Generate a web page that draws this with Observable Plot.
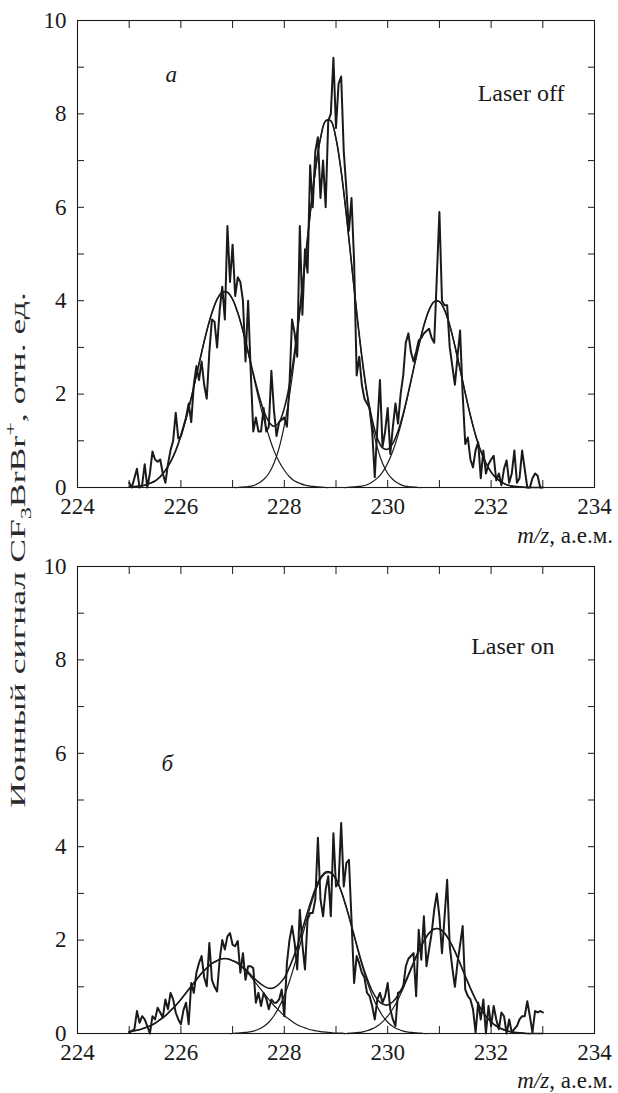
<!DOCTYPE html>
<html><head><meta charset="utf-8">
<script src="https://cdn.jsdelivr.net/npm/d3@7"></script>
<script src="https://cdn.jsdelivr.net/npm/@observablehq/plot@0.6"></script>
<style>
body{margin:0;background:#fff;}
#wrap{position:relative;width:618px;height:1093px;font-family:"Liberation Serif","DejaVu Serif",serif;}
#wrap > svg{display:block}
#wrap svg text, #wrap svg tspan{font-family:"Liberation Serif","DejaVu Serif",serif !important;}
#overlay{position:absolute;left:0;top:0;pointer-events:none}
</style></head><body><div id="wrap"></div>
<script>
// ---- data ----
const dataStart = 225, dataStep = 0.05;   // noisy traces: 225.00 … 233.00
const fitStart = 225, fitStep = 0.1;      // fitted curves: 225.0 … 233.0

const offData = [
 0.1,0,0.2,0.4,0,0.05,0.5,0,0.3,0.77,0.6,0.55,0.6,0.3,0.1,0.5,0.8,1.0,1.6,1.05,
 1.1,1.3,1.5,1.8,1.4,2.2,2.6,2.3,2.7,2.2,1.9,2.9,3.6,3.55,3.0,3.8,4.3,3.6,5.6,4.4,
 5.2,4.1,4.5,4.4,4.0,2.7,4.0,2.5,1.2,1.5,1.2,1.2,1.7,1.2,1.3,2.5,1.65,1.1,1.4,1.45,
 1.5,1.3,2.2,3.6,3.3,2.8,5.6,3.7,5.1,4.6,6.9,6.0,7.2,7.5,6.2,7.0,6.0,7.85,8.0,9.2,
 7.7,8.65,8.8,7.2,6.4,5.5,6.2,4.85,2.4,2.8,2.2,1.9,1.8,1.7,1.2,0.22,1.3,2.3,0.87,1.2,
 1.7,0.72,1.3,1.8,1.37,2.0,2.4,3.1,3.3,2.9,2.7,2.9,3.15,3.2,3.3,3.35,3.4,3.2,3.1,4.5,
 5.9,4.0,3.9,3.9,3.0,2.6,2.2,2.8,3.36,2.0,0.93,1.07,0.6,0.43,0.8,0.97,0.2,0.79,0.3,0.5,
 0.6,0.68,0.15,0.3,0.05,0.4,0.58,0.1,0.3,0.79,0.1,0.2,0.79,0.4,0,0,0.2,0.3,0.25,0,
 0
];
const onData = [
 0.02,0.05,0.09,0.48,0.23,0.37,0.30,0.16,0,0.37,0.30,0.55,0.45,0.34,0.73,0.52,0.87,0.73,0.45,0.30,
 0.2,0.5,0.66,0.2,1.08,0.87,1.3,1.51,1.66,1.2,1.01,1.94,1.15,1.0,0.9,1.58,2.0,1.8,2.08,2.15,
 1.9,1.87,1.98,1.3,1.72,1.15,1.44,1.44,1.4,0.66,0.87,0.59,0.87,0.75,0.52,0.73,0.66,0.66,0.73,0.94,
 0.37,1.5,2.0,2.3,1.94,1.37,2.65,1.9,1.37,2.44,2.58,2.58,2.87,4.19,2.87,2.51,3.08,3.37,2.51,4.29,
 3.15,3.22,4.51,3.15,3.65,3.72,2.44,1.08,1.66,1.5,1.3,1.2,0.87,0.8,0.59,0.3,0.73,0.87,0.66,0.8,
 1.08,0.52,0.3,0.16,0.87,0.9,1.0,1.44,1.6,1.66,1.72,0.8,2.22,1.58,2.51,1.44,1.8,2.15,2.65,3.0,
 2.51,1.72,2.5,3.29,1.87,1.4,1.0,1.51,1.9,2.3,0.94,0.8,0.73,0.52,0.02,0.66,0.3,0.73,0,0.59,
 0.16,0.59,0.3,0.09,0.45,0.37,0,0.3,0.02,0.1,0.16,0.3,0.37,0.37,0.69,0.37,0.02,0.48,0.45,0.48,
 0.45
];

// fitted Gaussian components and their sum, "Laser off"
const offFit1 = [0.01,0.02,0.03,0.05,0.09,0.14,0.23,0.37,0.55,0.79,1.11,1.48,1.92,2.40,2.89,3.35,3.74,4.03,4.18,4.18,
 4.03,3.74,3.35,2.89,2.40,1.92,1.48,1.11,0.79,0.55,0.37,0.23,0.14,0.09,0.05,0.03,0.02,0.01,0,0,
 0,0,0,0,0,0,0,0,0,0,0,0,0,0,0,0,0,0,0,0,0,0,0,0,0,0,0,0,0,0,0,0,0,0,0,0,0,0,0,0,0];
const offFit2 = [0,0,0,0,0,0,0,0,0,0,0,0,0,0,0,0,0,0,0,0,0,0,
 0.01,0.02,0.04,0.09,0.17,0.30,0.52,0.85,1.33,1.97,2.78,3.74,4.79,5.84,6.77,7.47,7.85,7.85,7.47,6.77,5.84,4.79,3.74,2.78,1.97,1.33,0.85,0.52,0.30,0.17,0.09,0.04,0.02,0.01,
 0,0,0,0,0,0,0,0,0,0,0,0,0,0,0,0,0,0,0,0,0,0,0,0,0];
const offFit3 = [0,0,0,0,0,0,0,0,0,0,0,0,0,0,0,0,0,0,0,0,0,0,0,0,0,0,0,0,0,0,0,0,0,0,0,0,0,0,0,0,0,0,0,
 0.01,0.02,0.03,0.06,0.12,0.20,0.33,0.52,0.78,1.12,1.54,2.02,2.53,3.03,3.47,3.80,3.98,3.98,3.80,3.47,3.03,2.53,2.02,1.54,1.12,0.78,0.52,0.33,0.20,0.12,0.06,0.03,0.02,0.01,
 0,0,0,0];
const offSum = [0.01,0.02,0.03,0.05,0.09,0.14,0.23,0.37,0.55,0.79,1.11,1.48,1.92,2.40,2.89,3.35,3.74,4.03,4.18,4.18,
 4.03,3.74,3.36,2.91,2.44,2.01,1.65,1.41,1.31,1.40,1.70,2.20,2.92,3.83,4.84,5.87,6.79,7.48,7.85,7.85,
 7.47,6.77,5.84,4.80,3.76,2.81,2.03,1.45,1.05,0.85,0.82,0.95,1.21,1.58,2.04,2.54,3.03,3.47,3.80,3.98,
 3.98,3.80,3.47,3.03,2.53,2.02,1.54,1.12,0.78,0.52,0.33,0.20,0.12,0.06,0.03,0.02,0.01,0,0,0,0];

// fitted Gaussian components and their sum, "Laser on"
const onFit1 = [0.04,0.06,0.08,0.12,0.16,0.22,0.30,0.38,0.49,0.60,0.73,0.87,1.01,1.15,1.29,1.40,1.50,1.56,1.60,1.60,
 1.56,1.50,1.40,1.29,1.15,1.01,0.87,0.73,0.60,0.49,0.38,0.30,0.22,0.16,0.12,0.08,0.06,0.04,0.03,0.02,0.01,0.01,
 0,0,0,0,0,0,0,0,0,0,0,0,0,0,0,0,0,0,0,0,0,0,0,0,0,0,0,0,0,0,0,0,0,0,0,0,0,0,0];
const onFit2 = [0,0,0,0,0,0,0,0,0,0,0,0,0,0,0,0,0,0,0,0,0,
 0.01,0.02,0.03,0.05,0.09,0.15,0.24,0.38,0.57,0.81,1.12,1.48,1.88,2.30,2.70,3.04,3.30,3.43,3.43,3.30,3.04,2.70,2.30,1.88,1.48,1.12,0.81,0.57,0.38,0.24,0.15,0.09,0.05,0.03,0.02,0.01,
 0,0,0,0,0,0,0,0,0,0,0,0,0,0,0,0,0,0,0,0,0,0,0,0];
const onFit3 = [0,0,0,0,0,0,0,0,0,0,0,0,0,0,0,0,0,0,0,0,0,0,0,0,0,0,0,0,0,0,0,0,0,0,0,0,0,0,0,0,0,0,0,
 0.01,0.02,0.03,0.06,0.10,0.16,0.25,0.37,0.53,0.73,0.97,1.23,1.50,1.76,1.98,2.15,2.24,2.24,2.15,1.98,1.76,1.50,1.23,0.97,0.73,0.53,0.37,0.25,0.16,0.10,0.06,0.03,0.02,0.01,
 0,0,0,0];
const onSum = [0.04,0.06,0.08,0.12,0.16,0.22,0.30,0.38,0.49,0.60,0.73,0.87,1.01,1.15,1.29,1.40,1.50,1.56,1.60,1.60,
 1.56,1.51,1.42,1.32,1.20,1.10,1.02,0.97,0.98,1.06,1.19,1.42,1.70,2.04,2.42,2.78,3.10,3.34,3.46,3.45,
 3.31,3.05,2.70,2.31,1.90,1.51,1.18,0.91,0.73,0.63,0.61,0.68,0.82,1.02,1.26,1.52,1.77,1.98,2.15,2.24,
 2.24,2.15,1.98,1.76,1.50,1.23,0.97,0.73,0.53,0.37,0.25,0.16,0.10,0.06,0.03,0.02,0.01,0,0,0,0];

const xDomain = [224, 234];
const yDomain = [0, 10];
const xTicks = [224,225,226,227,228,229,230,231,232,233,234];
const xLabelTicks = [224,226,228,230,232,234];
const yTicks = [0,1,2,3,4,5,6,7,8,9,10];
const yLabelTicks = [0,2,4,6,8,10];

const xLabel = ["m/z", ", а.е.м."];
const yLabel = ["Ионный сигнал CF", "3", "BrBr", "+", ", отн. ед."];
const panels = [
  {letter: "а", note: "Laser off", data: offData, fits: [offFit1, offFit2, offFit3], sum: offSum},
  {letter: "б", note: "Laser on",  data: onData,  fits: [onFit1, onFit2, onFit3],  sum: onSum}
];

// ---- drawing ----
const INK = "#1a1a1a";
const FONT = '"Liberation Serif", "DejaVu Serif", serif';
const toPts = (arr, start, step) => arr.map((v, i) => ({x: start + i * step, y: v}));

function panel(p, idx) {
  const marks = [
    Plot.frame({stroke: INK, strokeWidth: 1.1}),
    Plot.axisX({anchor: "bottom", ticks: xTicks, tickSize: -7, tickPadding: 17, fontFamily: FONT,
      tickFormat: d => xLabelTicks.includes(d) ? String(d) : "", label: null, fontSize: 23}),
    Plot.axisX({anchor: "top", ticks: xTicks, tickSize: -7, tickFormat: () => "", label: null}),
    Plot.axisY({anchor: "left", ticks: yTicks, tickSize: -7, tickPadding: 18, fontFamily: FONT,
      tickFormat: d => yLabelTicks.includes(d) ? String(d) : "", label: null, fontSize: 23}),
    Plot.axisY({anchor: "right", ticks: yTicks, tickSize: -7, tickFormat: () => "", label: null})
  ];
  for (const f of p.fits) {
    marks.push(Plot.line(toPts(f, fitStart, fitStep), {x: "x", y: "y", stroke: INK, strokeWidth: 1.2, curve: "catmull-rom"}));
  }
  marks.push(Plot.line(toPts(p.sum, fitStart, fitStep), {x: "x", y: "y", stroke: INK, strokeWidth: 1.6, curve: "catmull-rom"}));
  marks.push(Plot.line(toPts(p.data, dataStart, dataStep), {x: "x", y: "y", stroke: INK, strokeWidth: 2}));
  marks.push(Plot.text([p.letter], {text: d => d, frameAnchor: "top-left", dx: idx === 0 ? 88 : 84,
    dy: idx === 0 ? 45 : 188, fontStyle: "italic", fontSize: 23, fontFamily: FONT, fill: INK}));
  marks.push(Plot.text([p.note], {text: d => d, frameAnchor: "top-right", dx: idx === 0 ? -30 : -40,
    dy: idx === 0 ? 63 : 70, textAnchor: "end", fontSize: 24, fontFamily: FONT, fill: INK}));
  return Plot.plot({
    width: 618, height: idx === 0 ? 546 : 547,
    marginLeft: 77, marginRight: 24, marginTop: 20, marginBottom: idx === 0 ? 59 : 60,
    x: {domain: xDomain}, y: {domain: yDomain},
    style: {fontFamily: FONT, fontSize: "23px", color: INK, background: "white", overflow: "visible"},
    marks
  });
}

const wrap = document.getElementById("wrap");
panels.forEach((p, i) => {
  const svg = panel(p, i);
  d3.select(svg).attr("font-family", FONT).style("font-family", FONT);
  d3.select(svg).selectAll("g, text, tspan").attr("font-family", FONT).style("font-family", FONT);
  wrap.appendChild(svg);
});

// overlay: axis titles with italic / sub- and superscripts
const ov = d3.select(wrap).append("svg").attr("id", "overlay")
  .attr("width", 618).attr("height", 1093)
  .attr("font-family", FONT).style("font-family", FONT).style("fill", INK);

[538, 1083].forEach(y => {
  const t = ov.append("text").attr("x", 613).attr("y", y).attr("text-anchor", "end")
    .attr("font-size", 23).attr("dominant-baseline", "middle");
  t.append("tspan").attr("font-style", "italic").text(xLabel[0]);
  t.append("tspan").text(xLabel[1]);
});

const yl = ov.append("text").attr("transform", "translate(25,550) rotate(-90) scale(1.62,1)")
  .attr("text-anchor", "middle").attr("font-size", 22).style("fill", "#2a2a2a");
yl.append("tspan").text(yLabel[0]);
yl.append("tspan").attr("font-size", 15).attr("dy", 6).text(yLabel[1]);
yl.append("tspan").attr("dy", -6).text(yLabel[2]);
yl.append("tspan").attr("font-size", 15).attr("dy", -10).text(yLabel[3]);
yl.append("tspan").attr("dy", 10).text(yLabel[4]);
</script>
</body></html>
